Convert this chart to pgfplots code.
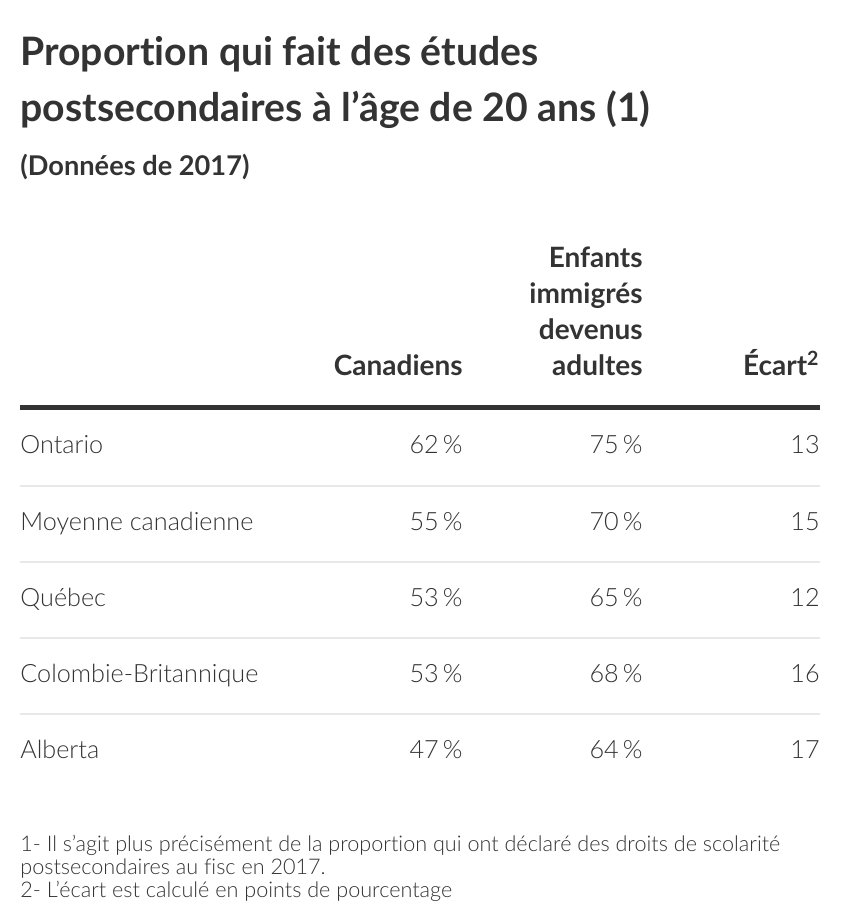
\documentclass[border=0pt]{standalone}
\usepackage{pgfplots}
\pgfplotsset{compat=1.18}
\usepackage{pgfplotstable}
\usepackage{fontspec}
\setmainfont{Lato}[Ligatures=NoCommon]
\newfontfamily\lightfont{Lato Light}[Ligatures=NoCommon]
\definecolor{ink}{HTML}{333333}
\definecolor{sep}{HTML}{E8E8E8}

% y = baseline of each row, in pixels from the top
\pgfplotstableread[col sep=comma]{
y,nom,can,imm,ecart
453,Ontario,62,75,13
530,Moyenne canadienne,55,70,15
606,Québec,53,65,12
682,Colombie-Britannique,53,68,16
758,Alberta,47,64,17
}\rows

\begin{document}
\begin{tikzpicture}
\begin{axis}[
    width=420pt, height=456.5pt, scale only axis,
    xmin=0, xmax=840, ymin=0, ymax=913, y dir=reverse,
    hide axis, clip=false,
    every node near coord/.append style={font=\lightfont\fontsize{12.6}{15}\selectfont,
        text=ink, inner sep=0pt},
]
% frame of the picture
\addplot[draw=none] coordinates {(0,0) (840,913)};

% rules
\addplot[ink, line width=2.5pt] coordinates {(20,408) (820,408)};
\addplot[sep, line width=1pt] coordinates {(20,486) (820,486)};
\addplot[sep, line width=1pt] coordinates {(20,562) (820,562)};
\addplot[sep, line width=1pt] coordinates {(20,638) (820,638)};
\addplot[sep, line width=1pt] coordinates {(20,714) (820,714)};

% table body
\addplot[draw=none, nodes near coords, point meta=explicit symbolic,
    every node near coord/.append style={anchor=base west}]
    table[x expr=20, y=y, meta=nom] {\rows};
\addplot[draw=none, nodes near coords={\pgfplotspointmeta\,\%}, point meta=explicit symbolic,
    every node near coord/.append style={anchor=base east}]
    table[x expr=463, y=y, meta=can] {\rows};
\addplot[draw=none, nodes near coords={\pgfplotspointmeta\,\%}, point meta=explicit symbolic,
    every node near coord/.append style={anchor=base east}]
    table[x expr=643, y=y, meta=imm] {\rows};
\addplot[draw=none, nodes near coords, point meta=explicit symbolic,
    every node near coord/.append style={anchor=base east}]
    table[x expr=820, y=y, meta=ecart] {\rows};

% titles
\begin{scope}[every node/.style={text=ink, inner sep=0pt}]
\node[anchor=base west, font=\bfseries\fontsize{19.6}{22}\selectfont] at (axis cs:20,66) {Proportion qui fait des études};
\node[anchor=base west, font=\bfseries\fontsize{19.6}{22}\selectfont] at (axis cs:20,122) {postsecondaires à l’âge de 20 ans (1)};
\node[anchor=base west, font=\bfseries\fontsize{13.6}{16}\selectfont] at (axis cs:20,176) {(Données de 2017)};

\node[anchor=base east, font=\bfseries\fontsize{14}{16}\selectfont] at (axis cs:463,376) {Canadiens};
\node[anchor=base east, font=\bfseries\fontsize{14}{16}\selectfont] at (axis cs:643,268) {Enfants};
\node[anchor=base east, font=\bfseries\fontsize{14}{16}\selectfont] at (axis cs:643,304) {immigrés};
\node[anchor=base east, font=\bfseries\fontsize{14}{16}\selectfont] at (axis cs:643,340) {devenus};
\node[anchor=base east, font=\bfseries\fontsize{14}{16}\selectfont] at (axis cs:643,376) {adultes};
\node[anchor=base east, font=\bfseries\fontsize{14}{16}\selectfont] at (axis cs:820,376) {Écart\textsuperscript{2}};

\node[anchor=base west, font=\lightfont\fontsize{10.8}{12}\selectfont] at (axis cs:20,851) {1- Il s’agit plus précisément de la proportion qui ont déclaré des droits de scolarité};
\node[anchor=base west, font=\lightfont\fontsize{10.8}{12}\selectfont] at (axis cs:20,874) {postsecondaires au fisc en 2017.};
\node[anchor=base west, font=\lightfont\fontsize{10.8}{12}\selectfont] at (axis cs:20,897) {2- L’écart est calculé en points de pourcentage};
\end{scope}
\end{axis}
\end{tikzpicture}
\end{document}
